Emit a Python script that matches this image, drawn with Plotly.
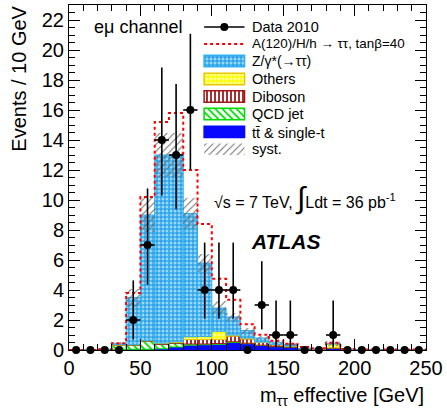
import numpy as np
import plotly.graph_objects as go

# ---------------- data ----------------
bin_edges = list(range(0, 260, 10))
bin_centers = [e + 5 for e in bin_edges[:-1]]

ttbar = [0, 0, 0.01, 0.03, 0.05, 0.05, 0.08, 0.20, 0.32, 0.35, 0.38, 0.50, 0.42,
         0.30, 0.22, 0.18, 0.07, 0.05, 0.12, 0.03, 0.02, 0.02, 0.02, 0.02, 0.02]
qcd = [0, 0, 0.02, 0.28, 0.28, 0.55, 0.30, 0.25, 0.08, 0.05, 0.05, 0.05, 0.03,
       0.02, 0.02, 0.01, 0, 0, 0, 0, 0, 0, 0, 0, 0]
diboson = [0, 0, 0, 0.02, 0.02, 0.02, 0.05, 0.05, 0.30, 0.30, 0.27, 0.38, 0.28,
           0.18, 0.10, 0.06, 0.02, 0.02, 0.03, 0.01, 0, 0, 0, 0, 0]
others = [0, 0, 0, 0.02, 0.02, 0.02, 0.03, 0.05, 0.18, 0.20, 0.55, 0.07, 0.07,
          0.03, 0.03, 0.02, 0.01, 0.01, 0.25, 0.01, 0, 0, 0, 0, 0]
ztautau = [0, 0, 0.02, 0.07, 3.13, 8.36, 12.54, 12.45, 8.22, 4.90, 1.55, 1.20, 0.50,
           0.27, 0.15, 0.11, 0.02, 0.02, 0.05, 0.01, 0.01, 0.01, 0.01, 0.01, 0.01]
signal = [0, 0, 0, 0.03, 0.30, 1.20, 2.20, 2.80, 2.90, 2.60, 1.95, 1.15, 0.42,
          0.22, 0.10, 0.04, 0.08, 0.02, 0.03, 0.01, 0.01, 0.01, 0.01, 0.01, 0.01]
syst = [0, 0, 0.02, 0.10, 0.60, 1.15, 1.45, 1.45, 1.05, 0.63, 0.45, 0.30, 0.20,
        0.15, 0.10, 0.08, 0.04, 0.03, 0.15, 0.02, 0.01, 0.01, 0.01, 0.01, 0.01]
data = [0, 0, 0, 0, 2, 7, 14, 13, 16, 4, 4, 4, 0, 3, 1, 1, 0, 0, 1, 0, 0, 0, 0, 0, 0]
data_err_lo = [0, 0, 0, 0, 1.29, 2.65, 3.70, 3.62, 3.97, 1.91, 1.91, 1.91, 0,
               1.63, 0.83, 0.83, 0, 0, 0.83, 0, 0, 0, 0, 0, 0]
data_err_hi = [0, 0, 0, 0, 2.64, 3.77, 4.83, 4.73, 5.08, 3.16, 3.16, 3.16, 0,
               2.92, 2.30, 2.30, 0, 0, 2.30, 0, 0, 0, 0, 0, 0]

x_ticks = [0, 50, 100, 150, 200, 250]
y_ticks = list(range(0, 23, 2))

FONT = "Liberation Sans, Arial, Helvetica, sans-serif"

# --------------- helpers --------------
L, R, T, B = 69, 16, 4, 66
W, H = 447, 416
PW, PH = W - L - R, H - T - B


def px(xp):
    return (xp - L) / PW


def py(yp):
    return (H - B - yp) / PH


tt = np.array(ttbar)
qc = np.array(qcd)
db = np.array(diboson)
ot = np.array(others)
zt = np.array(ztautau)
base_qcd = tt
base_db = tt + qc
base_ot = base_db + db
base_z = base_ot + ot
total = base_z + zt
sig_line = total + np.array(signal)
sy = np.array(syst)

fig = go.Figure()

widths = [10] * len(bin_centers)

PAT_Z = dict(shape=".", fgcolor="#9ad8fb", bgcolor="#2ca3e8", size=4, solidity=0.45, fillmode="replace")
PAT_OT = dict(shape=".", fgcolor="#ffffa8", bgcolor="#ffff00", size=4, solidity=0.4, fillmode="replace")
PAT_DB = dict(shape="|", fgcolor="#a01818", bgcolor="white", size=4, solidity=0.45, fillmode="replace")
PAT_QCD = dict(shape="\\", fgcolor="#00dd00", bgcolor="white", size=5, solidity=0.35, fillmode="replace")
PAT_SYS = dict(shape="/", fgcolor="#6a6a6a", bgcolor="rgba(0,0,0,0)", size=5, solidity=0.2, fillmode="replace")


def stack_bar(vals, base, color, line_color, pattern):
    fig.add_trace(go.Bar(
        x=bin_centers, y=list(vals), base=list(base), width=widths,
        marker=dict(color=color, line=dict(color=line_color, width=1),
                    pattern=pattern),
        showlegend=False, hoverinfo="skip"))


stack_bar(tt, np.zeros_like(tt), "#0808ff", "#0808ff", None)
stack_bar(qc, base_qcd, "white", "#00dd00", PAT_QCD)
stack_bar(db, base_db, "white", "#a01818", PAT_DB)
stack_bar(ot, base_ot, "#ffff00", "#e8c800", PAT_OT)
stack_bar(zt, base_z, "#2ca3e8", "#30b0f0", PAT_Z)

# systematic band
fig.add_trace(go.Bar(
    x=bin_centers, y=list(2 * sy), base=list(total - sy), width=widths,
    marker=dict(color="rgba(0,0,0,0)", line=dict(width=0), pattern=PAT_SYS),
    showlegend=False, hoverinfo="skip"))

# signal step line
fig.add_trace(go.Scatter(
    x=bin_edges, y=list(sig_line) + [sig_line[-1]], mode="lines",
    line=dict(color="#ff0000", width=2, dash="dot", shape="hv"),
    showlegend=False, hoverinfo="skip"))

# data
xerr = [5 if d > 0 else 0 for d in data]
fig.add_trace(go.Scatter(
    x=bin_centers, y=data, mode="markers",
    marker=dict(color="black", size=8),
    error_y=dict(type="data", symmetric=False, array=data_err_hi,
                 arrayminus=data_err_lo, color="black", thickness=1.6, width=0),
    error_x=dict(type="data", array=xerr, color="black", thickness=1.6, width=0),
    showlegend=False, hoverinfo="skip", cliponaxis=False))

# ---------------- legend (drawn on pixel overlay axes) ---------------
leg_x0, leg_x1 = 206, 247
leg_xc = (leg_x0 + leg_x1) / 2
leg_w = leg_x1 - leg_x0
boxes = [
    (54.5, "#2ca3e8", "#30b0f0", PAT_Z),
    (72.5, "#ffff00", "#e8c800", PAT_OT),
    (90.0, "white", "#a01818", PAT_DB),
    (107.5, "white", "#00dd00", PAT_QCD),
    (125.5, "#0808ff", "#0808ff", None),
    (143.0, "rgba(0,0,0,0)", "rgba(0,0,0,0)", PAT_SYS),
]
for y0, col, lc, pat in boxes:
    fig.add_trace(go.Bar(
        x=[leg_xc], y=[11.5], base=[y0], width=[leg_w], xaxis="x2", yaxis="y2",
        marker=dict(color=col, line=dict(color=lc, width=1.5), pattern=pat),
        showlegend=False, hoverinfo="skip"))

fig.add_trace(go.Scatter(
    x=[leg_x0, leg_x1], y=[26, 26], mode="lines", xaxis="x2", yaxis="y2",
    line=dict(color="black", width=1.6), showlegend=False, hoverinfo="skip"))
fig.add_trace(go.Scatter(
    x=[leg_xc], y=[26], mode="markers", xaxis="x2", yaxis="y2",
    marker=dict(color="black", size=8), showlegend=False, hoverinfo="skip"))
fig.add_trace(go.Scatter(
    x=[leg_x0, leg_x1], y=[43, 43], mode="lines", xaxis="x2", yaxis="y2",
    line=dict(color="#ff0000", width=2, dash="dot"), showlegend=False, hoverinfo="skip"))

leg_texts = [
    (26, "Data 2010", 14.5),
    (43, "A(120)/H/h \u2192 \u03c4\u03c4, tan\u03b2=40", 13.4),
    (60.5, "Z/\u03b3*(\u2192\u03c4\u03c4)", 14),
    (78.5, "Others", 14.5),
    (96, "Diboson", 14.5),
    (113.5, "QCD jet", 14.5),
    (132, "tt\u0304 & single-t", 14.5),
    (148.5, "syst.", 14.5),
]
annotations = []
for yy, txt, fs in leg_texts:
    annotations.append(dict(x=px(253), y=py(yy), xref="paper", yref="paper",
                            text=txt, showarrow=False, xanchor="left", yanchor="middle",
                            font=dict(family=FONT, size=fs, color="black")))

annotations += [
    dict(x=px(92), y=py(26), xref="paper", yref="paper", text="e\u03bc channel",
         showarrow=False, xanchor="left", yanchor="middle",
         font=dict(family=FONT, size=18, color="black")),
    dict(x=px(214), y=py(198), xref="paper", yref="paper",
         text="\u221as = 7 TeV, <span style='font-size:30px'>\u222b</span>Ldt = 36 pb<sup>-1</sup>",
         showarrow=False, xanchor="left", yanchor="middle",
         font=dict(family=FONT, size=16, color="black")),
    dict(x=px(252), y=py(241), xref="paper", yref="paper", text="<b><i>ATLAS</i></b>",
         showarrow=False, xanchor="left", yanchor="middle",
         font=dict(family=FONT, size=21, color="black")),
    dict(x=px(18), y=py(3), xref="paper", yref="paper", text="Events / 10 GeV",
         textangle=-90, showarrow=False, xanchor="center", yanchor="top",
         font=dict(family=FONT, size=20, color="black")),
    dict(x=px(431), y=py(397), xref="paper", yref="paper",
         text="m<sub>\u03c4\u03c4</sub> effective [GeV]",
         showarrow=False, xanchor="right", yanchor="middle",
         font=dict(family=FONT, size=20, color="black")),
]

fig.update_layout(
    width=W, height=H,
    margin=dict(l=L, r=R, t=T, b=B, pad=0),
    paper_bgcolor="white", plot_bgcolor="white",
    barmode="overlay", bargap=0,
    font=dict(family=FONT, size=20, color="black"),
    showlegend=False,
    annotations=annotations,
    xaxis=dict(range=[0, 250], tickvals=x_ticks, ticktext=[str(v) for v in x_ticks],
               ticks="inside", ticklen=11, tickwidth=1, tickcolor="black",
               showline=True, linecolor="black", linewidth=1, mirror="allticks",
               showgrid=False, zeroline=False, ticklabeloverflow="allow",
               tickfont=dict(family=FONT, size=20),
               minor=dict(dtick=10, ticks="inside", ticklen=6, tickcolor="black",
                          showgrid=False)),
    yaxis=dict(range=[0, 23], tickvals=y_ticks, ticktext=[str(v) for v in y_ticks],
               ticks="inside", ticklen=11, tickwidth=1, tickcolor="black",
               showline=True, linecolor="black", linewidth=1, mirror="allticks",
               showgrid=False, zeroline=False, ticklabeloverflow="allow",
               tickfont=dict(family=FONT, size=20),
               minor=dict(dtick=0.5, ticks="inside", ticklen=6, tickcolor="black",
                          showgrid=False)),
    xaxis2=dict(range=[L, W - R], overlaying="x", visible=False, showgrid=False),
    yaxis2=dict(range=[H - B, T], overlaying="y", visible=False, showgrid=False),
)

fig.write_html("out.html",
               config={"displayModeBar": False, "staticPlot": True},
               post_script="document.body.style.margin='0';document.body.style.overflow='hidden';")
